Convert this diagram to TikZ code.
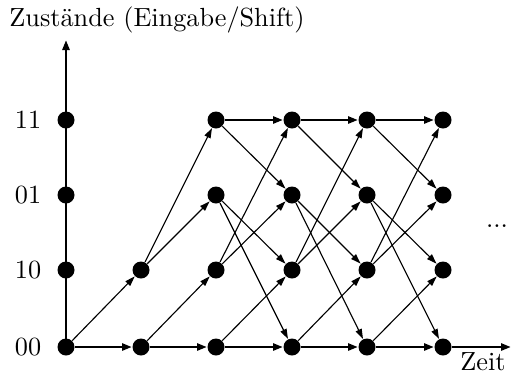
\documentclass[tikz,border=0pt]{standalone}
\usetikzlibrary{arrows.meta}
\begin{document}
\begin{tikzpicture}[x=0.4pt,y=-0.4pt,
  dot/.style={circle,fill=black,inner sep=0pt,minimum size=6.8pt},
  edge/.style={line width=0.45pt,-{Triangle[length=4pt,width=2.6pt]}},
  axis/.style={line width=1pt,-{Triangle[length=4pt,width=2.8pt]}},
  lbl/.style={inner sep=0pt,font=\fontsize{10.5}{12}\selectfont}]
\useasboundingbox (0,0) rectangle (512,374);
% column 0 (on the axis)
\foreach \r/\y in {00/347,10/270,01/195,11/120}
  \node[dot] (c0-\r) at (66,\y) {};
% column 1
\node[dot] (c1-00) at (141,347) {};
\node[dot] (c1-10) at (141,270) {};
% columns 2..5
\foreach \c/\x in {2/216,3/292,4/367,5/443}
  \foreach \r/\y in {00/347,10/270,01/195,11/120}
    \node[dot] (c\c-\r) at (\x,\y) {};
% state labels
\node[lbl] (l11) at (28,120) {11};
\node[lbl] (l01) at (28,195) {01};
\node[lbl] (l10) at (28,270) {10};
\node[lbl] (l00) at (28,347) {00};
\node[lbl] (title) at (157,20) {Zust\"ande (Eingabe/Shift)};
\node[lbl] (zeit) at (483,362) {Zeit};
\node[lbl] (dots) at (497,226) {...};
% axes
\coordinate (ytop) at (66,40);
\coordinate (xend) at (511,347);
\draw[axis] (c0-00.center) -- (ytop);
\draw[axis] (c0-00) -- (c1-00);
\draw[axis] (c1-00) -- (c2-00);
\foreach \c/\n in {2/3,3/4,4/5}{
  \draw[axis] (c\c-00) -- (c\n-00);
  \draw[axis] (c\c-11) -- (c\n-11);
}
\draw[axis] (c5-00) -- (xend);
% transitions
\draw[edge] (c0-00) -- (c1-10);
\draw[edge] (c1-00) -- (c2-10);
\draw[edge] (c1-10) -- (c2-01);
\draw[edge] (c1-10) -- (c2-11);
\foreach \c/\n in {2/3,3/4,4/5}{
  \draw[edge] (c\c-00) -- (c\n-10);
  \draw[edge] (c\c-10) -- (c\n-01);
  \draw[edge] (c\c-10) -- (c\n-11);
  \draw[edge] (c\c-01) -- (c\n-00);
  \draw[edge] (c\c-01) -- (c\n-10);
  \draw[edge] (c\c-11) -- (c\n-01);
}
\end{tikzpicture}
\end{document}
